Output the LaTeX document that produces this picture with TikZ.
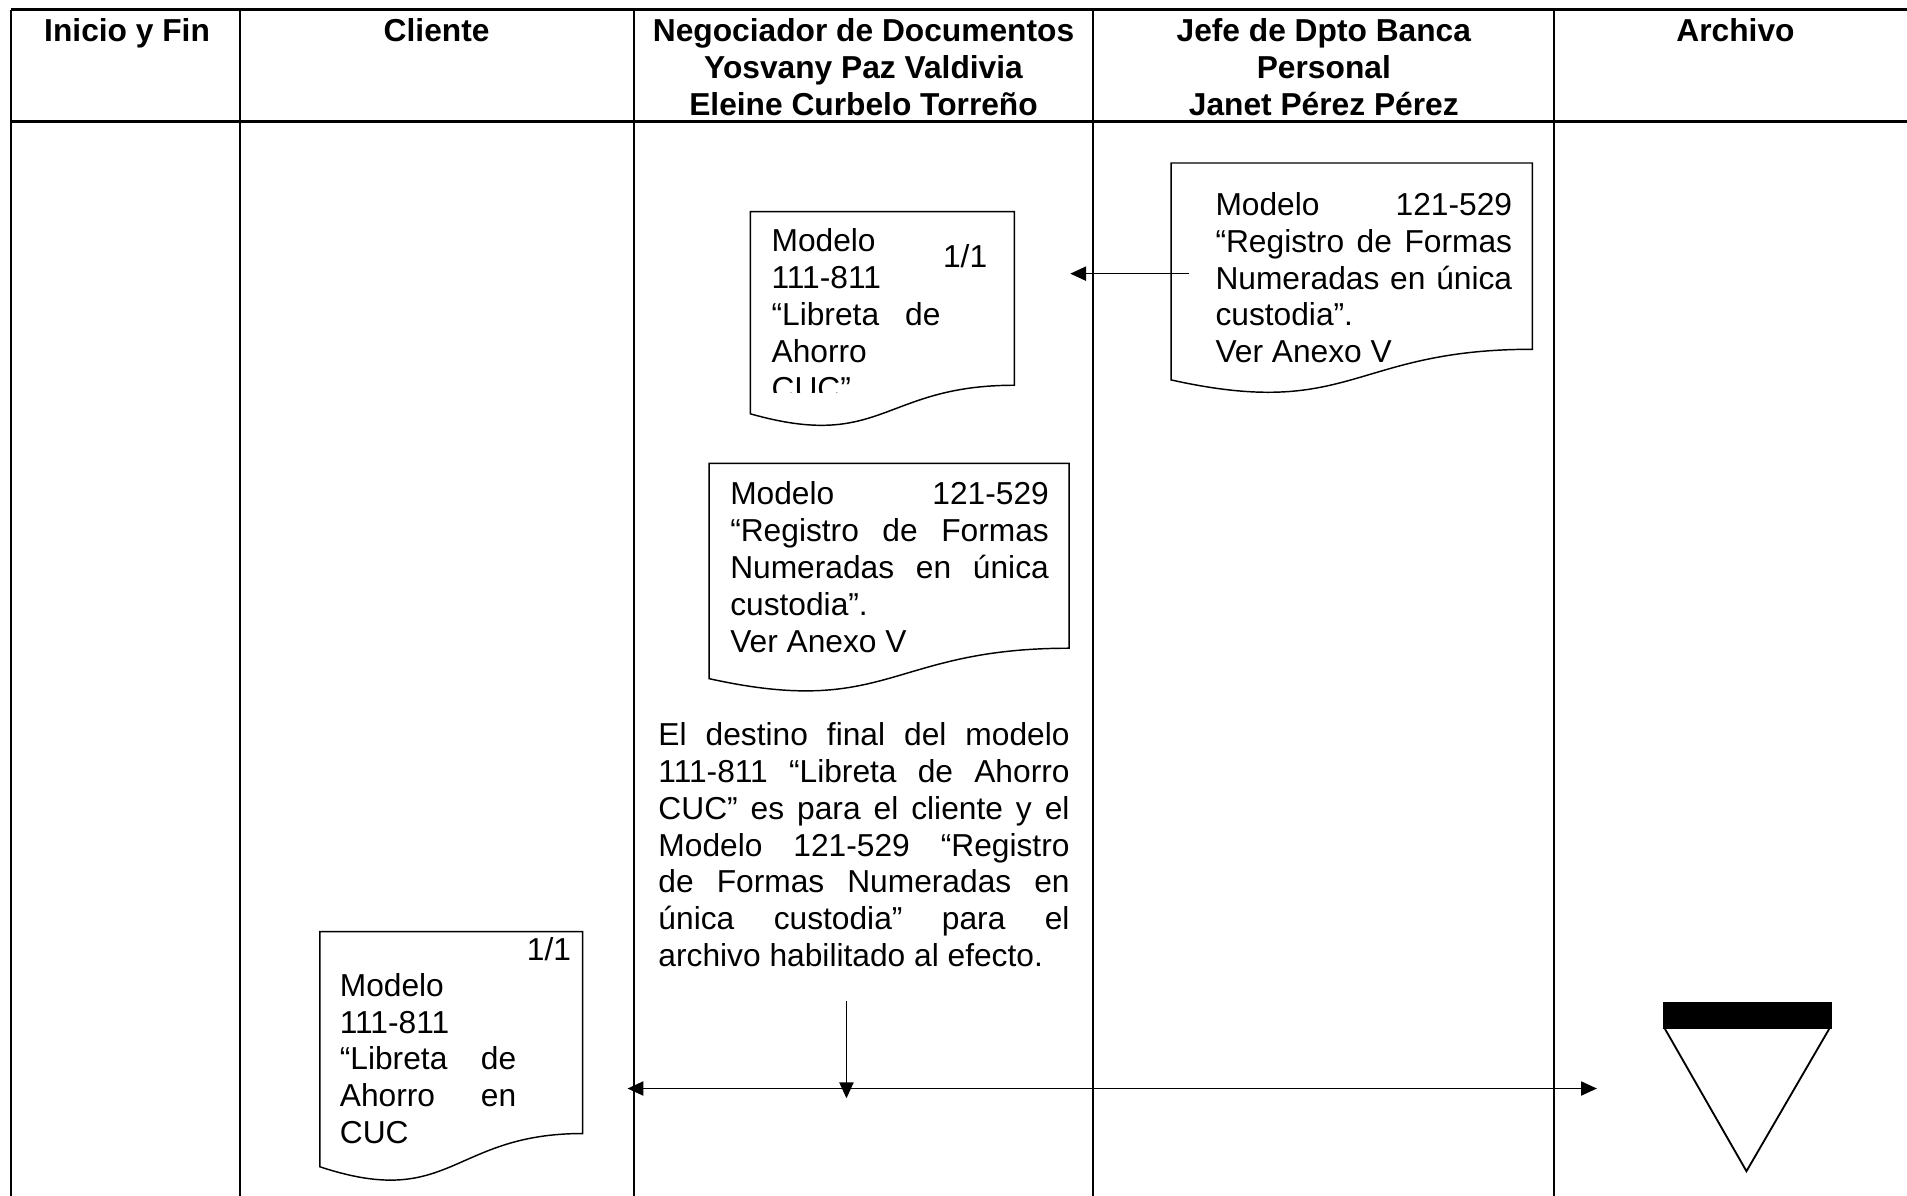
\documentclass[tikz,border=0pt]{standalone}
\usepackage{fontspec}
\setmainfont{Liberation Sans}
\usetikzlibrary{arrows.meta}
\setlength{\parindent}{0pt}
\hyphenpenalty=10000 \exhyphenpenalty=10000 \tolerance=10000 \hbadness=10000

\newcommand{\docshape}[4]{%
\draw[docline] (#1,#2) -- (#3,#2) -- (#3,{#2+0.802*#4})
  .. controls ({(#1+#3)/2},{#2+0.802*#4}) and ({(#1+#3)/2},{#2+1.107*#4}) .. (#1,{#2+0.934*#4}) -- cycle;}

\begin{document}
\begin{tikzpicture}[x=0.46pt, y=-0.46pt,
  rule/.style={line width=1.1pt},
  lane/.style={line width=0.75pt},
  docline/.style={line width=0.55pt},
  flow/.style={line width=0.5pt, -{Triangle[length=6pt,width=5.4pt]}},
  head/.style={anchor=north, inner sep=0pt, align=center, font=\fontsize{12}{13.95}\selectfont\bfseries},
  txt/.style={anchor=north west, inner sep=0pt, align=justify, font=\fontsize{12}{13.95}\selectfont},
  pageno/.style={inner sep=0pt, font=\fontsize{12}{13.95}\selectfont}]
\useasboundingbox (0,0) rectangle (1568,983);
\clip (0,0) rectangle (1568,983);
\draw[rule] (9,8) -- (1568,8);
\draw[rule] (9,100) -- (1568,100);
\draw[lane] (9,8) -- (9,983);
\foreach \x in {197,521,899,1278}
  \draw[lane] (\x,8) -- (\x,983);
\node[head] (hInicio) at (104.5,15) {Inicio y Fin};
\node[head] (hCliente) at (359,15) {Cliente};
\node[head] (hNegociador) at (710,15) {Negociador de Documentos\\Yosvany Paz Valdivia\\Eleine Curbelo Torreño};
\node[head] (hJefe) at (1088.5,15) {Jefe de Dpto Banca\\Personal\\Janet Pérez Pérez};
\node[head] (hArchivo) at (1427,15) {Archivo};
\docshape{617}{174}{834}{178}
\begin{scope}
\clip (617,174) rectangle (834,323);
\node[txt, text width=63.9pt] (libretaNeg) at (634,187.6) {Modelo\linebreak 111-811\linebreak “Libreta de\linebreak Ahorro\linebreak CUC”};
\end{scope}
\node[pageno, anchor=north west] (pagNeg) at (775,200.6) {1/1};
\docshape{963}{134}{1260}{191}
\node[txt, text width=112.2pt] (registroJefe) at (999,157.7) {Modelo 121-529\linebreak “Registro de Formas\linebreak Numeradas en única\linebreak custodia”.\\Ver Anexo V};
\docshape{583}{381}{879}{189.5}
\node[txt, text width=120.5pt] (registroNeg) at (600,395.7) {Modelo 121-529\linebreak “Registro de Formas\linebreak Numeradas en única\linebreak custodia”.\\Ver Anexo V};
\node[txt, text width=155.5pt] (destino) at (541,593.6) {El destino final del modelo\linebreak 111-811 “Libreta de Ahorro\linebreak CUC” es para el cliente y el\linebreak Modelo 121-529 “Registro\linebreak de Formas Numeradas en\linebreak única custodia” para el\linebreak archivo habilitado al efecto.};
\docshape{263}{766}{479}{207}
\node[pageno, anchor=north east] (pagCli) at (470,770.6) {1/1};
\node[txt, text width=66.7pt] (libretaCli) at (279,799.7) {Modelo\linebreak 111-811\linebreak “Libreta de\linebreak Ahorro en\linebreak CUC};
\fill (1367,824) rectangle (1506,846);
\draw[line width=0.7pt] (1369,846) -- (1436,963) -- (1504,846);
\coordinate (jefeOut) at (978,225);
\coordinate (negIn) at (880,225);
\coordinate (destTop) at (696,823);
\coordinate (destBot) at (696,903);
\coordinate (splitL) at (733,895);
\coordinate (cliIn) at (516,895);
\coordinate (splitR) at (696,895);
\coordinate (archIn) at (1313,895);
\draw[flow] (jefeOut) -- (negIn);
\draw[flow] (destTop) -- (destBot);
\draw[flow] (splitL) -- (cliIn);
\draw[flow] (splitR) -- (archIn);
\end{tikzpicture}
\end{document}
